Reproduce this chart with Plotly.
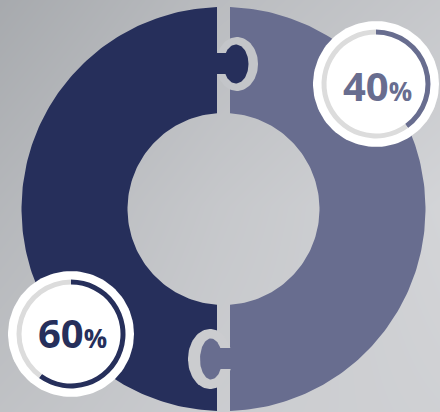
import numpy as np
import plotly.graph_objects as go

# ---- data ----
labels = ["60%", "40%"]
values = [60, 40]
colors = ["#262f5b", "#686d8f"]
track_color = "#dcdcdc"

# background tones (gray levels)
bg_x = [0, 220, 440]
bg_y = [0, 206, 412]
bg_z = [[167, 186, 198],
        [181, 198, 211],
        [192, 203, 207]]

W, H = 440, 412
fig = go.Figure()

fig.add_trace(go.Heatmap(
    x=bg_x, y=bg_y, z=bg_z, zsmooth="best", showscale=False, hoverinfo="skip",
    colorscale=[[0, "rgb(160,163,167)"], [1, "rgb(215,216,219)"]], zmin=160, zmax=215))

# ---- donut geometry ----
cx, cy, R, r, g = 223.5, 209, 202, 96, 6.5


def half(side):
    do = np.arcsin(g / R)
    di = np.arcsin(g / r)
    ph_o = np.linspace(do, np.pi - do, 160)
    ph_i = np.linspace(np.pi - di, di, 100)
    xs = np.concatenate([cx + side * R * np.sin(ph_o), cx + side * r * np.sin(ph_i)])
    ys = np.concatenate([cy - R * np.cos(ph_o), cy - r * np.cos(ph_i)])
    return np.append(xs, xs[0]), np.append(ys, ys[0])


def ellipse(x0, y0, rx, ry, n=80):
    t = np.linspace(0, 2 * np.pi, n)
    return x0 + rx * np.cos(t), y0 + ry * np.sin(t)


def rect(x0, x1, y0, y1):
    return [x0, x1, x1, x0, x0], [y0, y0, y1, y1, y0]


def poly(xs, ys, color):
    fig.add_trace(go.Scatter(x=list(xs), y=list(ys), mode="lines", fill="toself",
                             fillcolor=color, line=dict(width=0, color=color),
                             hoverinfo="skip"))


# halves: left = first category (navy), right = second (slate)
xr, yr = half(+1)
poly(xr, yr, colors[1])
xl, yl = half(-1)
poly(xl, yl, colors[0])

# top puzzle tab (navy knob into slate piece)
poly(*ellipse(237, 64, 21, 27), "#c3c5c9")
poly(*ellipse(236, 64, 12.5, 19.5), colors[0])
poly(*rect(213, 229, 53, 74), colors[0])

# bottom puzzle tab (slate knob into navy piece)
poly(*ellipse(210, 359, 22, 30), "#cbcccf")
poly(*ellipse(211, 359, 11, 20.5), colors[1])
poly(*rect(216, 234, 348, 369), colors[1])

# ---- badges ----
badges = [dict(cx=71, cy=334, dy=-2), dict(cx=376, cy=84, dy=1)]
white_r, ring_r, ring_w = 63, 54.5, 5

for i, b in enumerate(badges):
    poly(*ellipse(b["cx"], b["cy"], white_r, white_r, 120), "#ffffff")
    fig.add_trace(go.Pie(
        values=[values[i], 100 - values[i]],
        marker=dict(colors=[colors[i], track_color], line=dict(width=0)),
        hole=(ring_r - ring_w) / ring_r, sort=False, direction="clockwise",
        rotation=0, textinfo="none", hoverinfo="skip", showlegend=False,
        domain=dict(x=[(b["cx"] - ring_r) / W, (b["cx"] + ring_r) / W],
                    y=[(H - b["cy"] - ring_r) / H, (H - b["cy"] + ring_r) / H])))
    num = labels[i].rstrip("%")
    fig.add_annotation(
        x=b["cx"] + 1, y=b["cy"] + b["dy"], xref="x", yref="y", showarrow=False,
        text=f"<b>{num}</b><span style='font-size:26px'><b>%</b></span>",
        font=dict(family="Open Sans", size=40, color=colors[i]),
        xanchor="center", yanchor="middle")

fig.update_layout(
    width=W, height=H, margin=dict(l=0, r=0, t=0, b=0),
    paper_bgcolor="#c4c6ca", plot_bgcolor="#c4c6ca", showlegend=False,
    xaxis=dict(range=[0, W], visible=False, fixedrange=True),
    yaxis=dict(range=[H, 0], visible=False, fixedrange=True),
)

fig.write_html("out.html", config={"displayModeBar": False})
